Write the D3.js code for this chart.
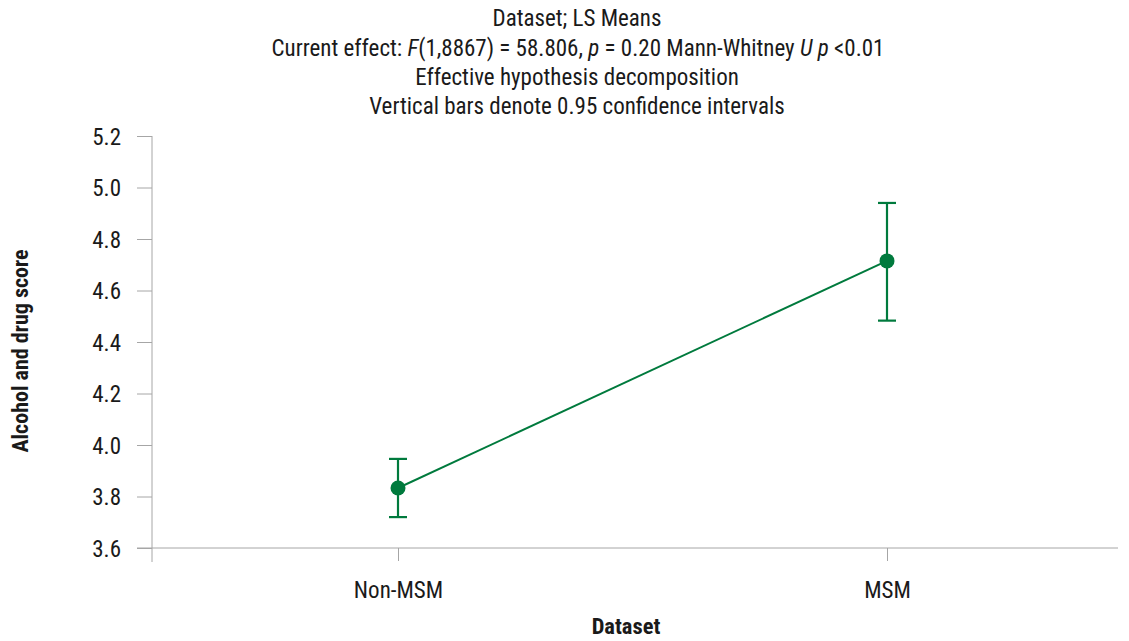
<!DOCTYPE html>
<html><head><meta charset="utf-8">
<script src="https://cdn.jsdelivr.net/npm/d3@7"></script>
<style>
body{margin:0;background:#fff;}
text{font-family:"Liberation Sans Narrow","Roboto Condensed","Liberation Sans",sans-serif;fill:#1a1a1a;}
</style></head>
<body><svg id="c" width="1129" height="641"></svg>
<script>
const categories = ["Non-MSM","MSM"];
const means = [3.833, 4.715];
const lower = [3.72, 4.483];
const upper = [3.946, 4.94];
const yTicks = [3.6,3.8,4.0,4.2,4.4,4.6,4.8,5.0,5.2];
const titleLines = ["Dataset; LS Means", null, "Effective hypothesis decomposition", "Vertical bars denote 0.95 confidence intervals"];

const svg = d3.select("#c");
const green = "#007a3d", axisCol = "#a6a6a6";
const x = d3.scalePoint().domain(categories).range([398, 887]);
const y = d3.scaleLinear().domain([3.6, 5.2]).range([548, 136]);

// titles
const tY = [26, 56, 85, 114];
const tg = svg.append("g").attr("font-size", 23).attr("text-anchor","middle");
tg.append("text").attr("x",577).attr("y",tY[0]).text(titleLines[0]);
const t2 = tg.append("text").attr("x",578).attr("y",tY[1]);
t2.append("tspan").text("Current effect: ");
t2.append("tspan").attr("font-style","italic").text("F");
t2.append("tspan").text("(1,8867) = 58.806, ");
t2.append("tspan").attr("font-style","italic").text("p");
t2.append("tspan").text(" = 0.20 Mann-Whitney ");
t2.append("tspan").attr("font-style","italic").text("U p");
t2.append("tspan").text(" <0.01");
tg.append("text").attr("x",577).attr("y",tY[2]).text(titleLines[2]);
tg.append("text").attr("x",577).attr("y",tY[3]).text(titleLines[3]);

// y axis
const ya = svg.append("g").attr("transform","translate(152,0)")
  .call(d3.axisLeft(y).tickValues(yTicks).tickFormat(d3.format(".1f")).tickSize(15).tickPadding(16));
ya.select(".domain").remove();
ya.selectAll("line").attr("stroke",axisCol);
ya.selectAll("text").attr("font-size",23).attr("dy","0.35em");
svg.append("line").attr("x1",152).attr("x2",152).attr("y1",136).attr("y2",562).attr("stroke",axisCol);

// x axis
svg.append("line").attr("x1",137).attr("x2",1118).attr("y1",548).attr("y2",548).attr("stroke",axisCol);
const xa = svg.append("g").attr("transform","translate(0,548)")
  .call(d3.axisBottom(x).tickSize(13).tickPadding(21));
xa.select(".domain").remove();
xa.selectAll("line").attr("stroke",axisCol);
xa.selectAll("text").attr("font-size",23);

// axis titles
svg.append("text").attr("x",626).attr("y",634).attr("text-anchor","middle")
  .attr("font-size",22.5).attr("font-weight","bold").text("Dataset");
svg.append("text").attr("transform","translate(28,351) rotate(-90)").attr("text-anchor","middle")
  .attr("font-size",22).attr("font-weight","bold").text("Alcohol and drug score");

// data
const data = categories.map((c,i)=>({c, m:means[i], lo:lower[i], hi:upper[i]}));
svg.append("path").datum(data)
  .attr("d", d3.line().x(d=>x(d.c)).y(d=>y(d.m)))
  .attr("fill","none").attr("stroke",green).attr("stroke-width",2);
const eg = svg.append("g").attr("stroke",green).attr("stroke-width",2.2);
data.forEach(d=>{
  eg.append("line").attr("x1",x(d.c)).attr("x2",x(d.c)).attr("y1",y(d.lo)).attr("y2",y(d.hi));
  eg.append("line").attr("x1",x(d.c)-9).attr("x2",x(d.c)+9).attr("y1",y(d.lo)).attr("y2",y(d.lo));
  eg.append("line").attr("x1",x(d.c)-9).attr("x2",x(d.c)+9).attr("y1",y(d.hi)).attr("y2",y(d.hi));
});
svg.selectAll("circle.pt").data(data).join("circle").attr("class","pt")
  .attr("cx",d=>x(d.c)).attr("cy",d=>y(d.m)).attr("r",7.5).attr("fill",green);
</script></body></html>
